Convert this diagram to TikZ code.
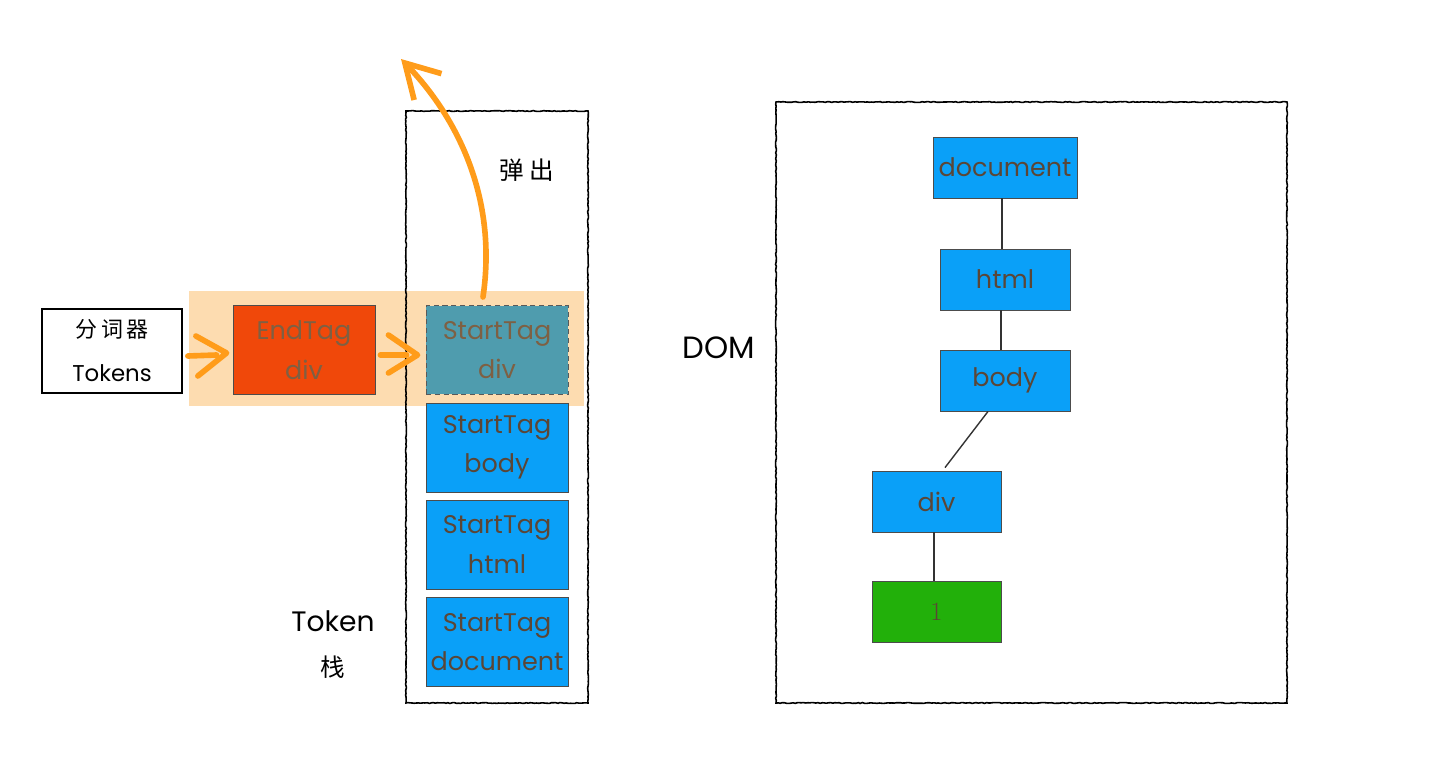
\documentclass[tikz,border=0pt]{standalone}
\usepackage{fontspec}
\newfontfamily\tagfont{Poppins}
\newfontfamily\cjkfont{Noto Sans CJK SC}
\usetikzlibrary{arrows.meta,decorations.pathmorphing}
\definecolor{tagbrown}{HTML}{5B4636}
\definecolor{tagbrownlight}{HTML}{7E6043}
\definecolor{tagblue}{HTML}{0AA0F8}
\definecolor{tagteal}{HTML}{4F9CAE}
\definecolor{tagred}{HTML}{F0480A}
\definecolor{taggreen}{HTML}{22B00A}
\definecolor{bandpeach}{HTML}{FDDCB0}
\definecolor{arroworange}{HTML}{FF9C1A}
\tikzset{
  tagbox/.style={draw=gray!60!black, line width=0.5pt, minimum width=2.84cm, minimum height=1.78cm,
    inner sep=0pt, align=center, text=tagbrown, font=\tagfont\fontsize{14.5}{22.5}\selectfont},
  stackbox/.style={tagbox, fill=tagblue},
  domnode/.style={draw=gray!60!black, line width=0.5pt, fill=tagblue, minimum height=1.22cm,
    inner sep=0pt, text=tagbrown, font=\tagfont\fontsize{14.5}{18}\selectfont},
  sketchframe/.style={draw=black, line width=0.9pt, decorate,
    decoration={random steps, segment length=1.2pt, amplitude=0.25pt}},
  handarrow/.style={draw=arroworange, line width=3.2pt, line cap=round, line join=round},
  treeline/.style={draw=black!80, line width=0.8pt}
}
\begin{document}
\begin{tikzpicture}[x=0.02cm,y=-0.02cm]
        \useasboundingbox (0,0) rectangle (1432,774);
        % highlight band and frames
        \fill[bandpeach] (189,291) rectangle (584,406);
        \draw[sketchframe] (406,111) rectangle (588,703);
        \draw[sketchframe] (776,102) rectangle (1287,703);
        % tokenizer and tokens
        \node[draw=black, line width=1pt, fill=white, minimum width=2.8cm, minimum height=1.68cm, align=center,
          font=\fontsize{13}{25}\selectfont] (tokbox) at (112,351)
          {{\cjkfont\fontsize{12.5}{25}\selectfont 分\hspace{2pt}词\hspace{2pt}器}\\{\tagfont Tokens}};
        \node[tagbox, fill=tagred, text=tagbrownlight] (endtag) at (304,350) {EndTag\\div};
        \node[tagbox, fill=tagteal, text=tagbrownlight, draw=gray!70!black, dashed,
          dash pattern=on 3pt off 2pt] (sdiv) at (497,350) {StartTag\\div};
        \node[stackbox] (sbody) at (497,447.5) {StartTag\\body};
        \node[stackbox] (shtml) at (497,544.5) {StartTag\\html};
        \node[stackbox] (sdoc) at (497,642) {StartTag\\document};
        % arrows
        \draw[handarrow] ([xshift=0.1cm,yshift=-0.1cm]tokbox.east) -- ([xshift=-0.32cm,yshift=-0.1cm]endtag.west);
        \draw[handarrow] ([xshift=0.26cm,yshift=0.3cm]tokbox.east) -- ([xshift=-0.12cm,yshift=-0.06cm]endtag.west)
          -- ([xshift=0.3cm,yshift=-0.5cm]tokbox.east);
        \draw[handarrow] ([xshift=0.1cm,yshift=-0.1cm]endtag.east) -- ([xshift=-0.38cm,yshift=-0.1cm]sdiv.west);
        \draw[handarrow] ([xshift=0.26cm,yshift=0.3cm]endtag.east) -- ([xshift=-0.16cm,yshift=-0.1cm]sdiv.west)
          -- ([xshift=0.26cm,yshift=-0.46cm]endtag.east);
        \coordinate (popstart) at (483,297);
        \coordinate (poptip) at (401,59);
        \draw[handarrow, -{Straight Barb[length=0.66cm,width=0.76cm]}] (popstart)
          .. controls (498,195) and (455,115) .. (poptip);
        % labels
        \node[font=\cjkfont\fontsize{14}{16}\selectfont] (poplabel) at (527,170) {弹\hspace{3pt}出};
        \node[font=\tagfont\fontsize{16}{18}\selectfont] (stacklabel) at (333,621) {Token};
        \node[font=\cjkfont\fontsize{14}{16}\selectfont] (stackcjk) at (333,667) {栈};
        \node[font=\tagfont\fontsize{17.5}{20}\selectfont] (domlabel) at (719,348) {DOM};
        % dom tree
        \node[domnode, minimum width=2.88cm] (ndoc) at (1005,167.5) {document};
        \node[domnode, minimum width=2.6cm] (nhtml) at (1005,279.5) {html};
        \node[domnode, minimum width=2.6cm] (nbody) at (1005,380.5) {body};
        \node[domnode, minimum width=2.58cm] (ndiv) at (936.5,501.5) {div};
        \node[domnode, minimum width=2.58cm, fill=taggreen, font=\fontsize{15}{18}\selectfont] (none) at (936.5,611.5) {1};
        \draw[treeline] ([xshift=-0.06cm]ndoc.south) -- ([xshift=-0.06cm]nhtml.north);
        \draw[treeline] ([xshift=-0.08cm]nhtml.south) -- ([xshift=-0.08cm]nbody.north);
        \draw[treeline] ([xshift=-0.34cm]nbody.south) -- ([xshift=0.17cm,yshift=0.06cm]ndiv.north);
        \draw[treeline] ([xshift=-0.05cm]ndiv.south) -- ([xshift=-0.05cm]none.north);
\end{tikzpicture}
\end{document}
